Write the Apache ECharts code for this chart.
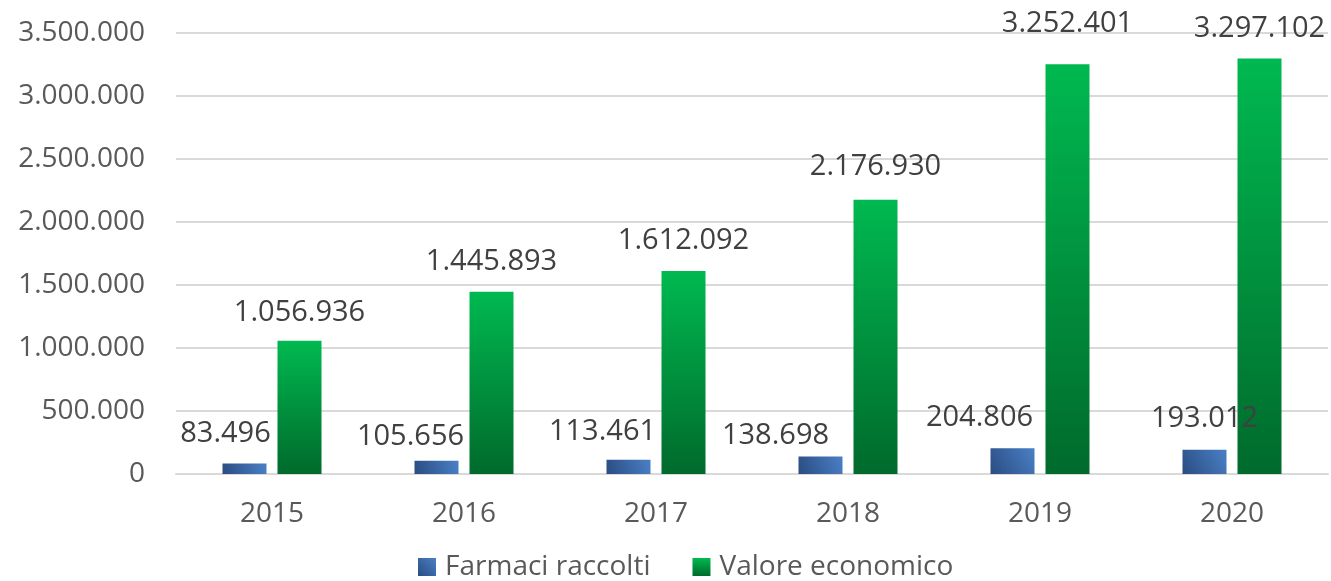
<!DOCTYPE html>
<html>
<head>
<meta charset="utf-8">
<script src="https://cdn.jsdelivr.net/npm/echarts@6/dist/echarts.min.js"></script>
<style>
    html, body { margin: 0; padding: 0; background: #fff; }
    #chart { width: 1331px; height: 581px; }
</style>
</head>
<body>
<div id="chart"></div>
<script>
// dati
var anni = ['2015', '2016', '2017', '2018', '2019', '2020'];
var farmaciRaccolti = [83496, 105656, 113461, 138698, 204806, 193012];
var valoreEconomico = [1056936, 1445893, 1612092, 2176930, 3252401, 3297102];
var serieNomi = ['Farmaci raccolti', 'Valore economico'];

// spostamento manuale delle etichette (come nell'originale)
var spostFarmaci = [[-19, 0], [-26, 6], [-26, 2], [-45, 9], [-33, 0], [0, -1]];
var spostValore = [[0, 2], [0, 0], [0, 0], [0, -3], [0, -10], [0, 0]];

var fontBase = '"Open Sans", "Noto Sans", sans-serif';

// formato italiano: punto come separatore delle migliaia
function formatta(v) {
    return String(v).replace(/\B(?=(\d{3})+(?!\d))/g, '.');
}

function conEtichette(valori, spost) {
    return valori.map(function (v, i) {
        return { value: v, label: { offset: spost[i] } };
    });
}

var coloreBlu = new echarts.graphic.LinearGradient(0, 1, 1, 0, [
    { offset: 0, color: '#2a4c82' },
    { offset: 1, color: '#4a80c6' }
]);
var coloreVerde = new echarts.graphic.LinearGradient(0, 0, 0, 1, [
    { offset: 0, color: '#00b950' },
    { offset: 1, color: '#006a2c' }
]);

var etichetta = {
    show: true,
    position: 'top',
    distance: 16,
    fontSize: 29,
    lineHeight: 28,
    color: '#404040',
    fontFamily: fontBase,
    formatter: function (p) { return formatta(p.value); }
};

var myChart = echarts.init(document.getElementById('chart'), null, { renderer: 'canvas' });
var option = {
    animation: false,
    textStyle: { fontFamily: fontBase },
    grid: {
        left: 176,
        right: 3,
        top: 33,
        bottom: 107,
        containLabel: false
    },
    legend: {
        data: serieNomi,
        left: 418,
        top: 553,
        padding: 0,
        itemWidth: 18,
        itemHeight: 18,
        itemGap: 42,
        icon: 'rect',
        textStyle: {
            fontSize: 28,
            color: '#595959',
            fontFamily: fontBase,
            padding: [0, 0, 0, 4]
        }
    },
    xAxis: [{
        type: 'category',
        data: anni,
        axisLine: { show: true, lineStyle: { color: '#d9d9d9', width: 2 } },
        axisTick: { show: false },
        axisLabel: { fontSize: 28, color: '#595959', margin: 26, fontFamily: fontBase }
    }],
    yAxis: [{
        type: 'value',
        min: 0,
        max: 3500000,
        interval: 500000,
        axisLine: { show: false },
        axisTick: { show: false },
        splitLine: { lineStyle: { color: '#d9d9d9', width: 2 } },
        axisLabel: {
            fontSize: 28,
            color: '#595959',
            margin: 31,
            fontFamily: fontBase,
            formatter: formatta
        }
    }],
    series: [{
        name: serieNomi[0],
        type: 'bar',
        barWidth: 44,
        barGap: '25%',
        itemStyle: { color: coloreBlu },
        label: etichetta,
        data: conEtichette(farmaciRaccolti, spostFarmaci)
    }, {
        name: serieNomi[1],
        type: 'bar',
        barWidth: 44,
        itemStyle: { color: coloreVerde },
        label: etichetta,
        data: conEtichette(valoreEconomico, spostValore)
    }]
};
myChart.setOption(option);
</script>
</body>
</html>
